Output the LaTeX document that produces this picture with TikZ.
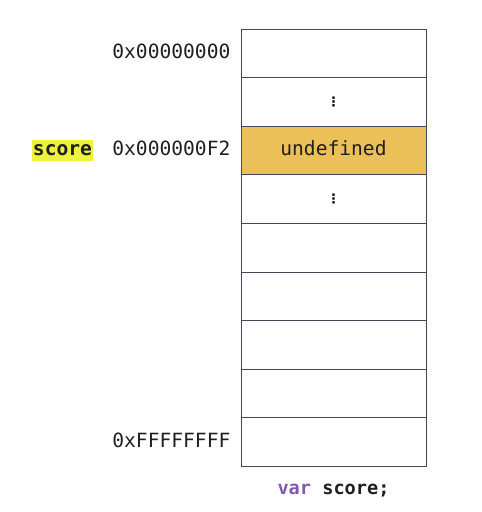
\documentclass[tikz,border=0pt]{standalone}
\usepackage{fontspec}
\setmonofont{DejaVu Sans Mono}
\newfontfamily\symfont{DejaVu Sans}
\usetikzlibrary{positioning}
\definecolor{cellline}{RGB}{70,70,90}
\definecolor{cellfill}{RGB}{236,192,88}
\definecolor{marker}{RGB}{238,242,60}
\definecolor{kwpurple}{RGB}{128,88,178}

\begin{document}
\begin{tikzpicture}[x=1pt,y=-1pt,
  cell/.style={draw=cellline,line width=0.8pt,minimum width=185pt,minimum height=48.6pt,inner sep=0pt},
  mono/.style={font=\ttfamily\fontsize{19.6}{22}\selectfont,text=black!88,inner sep=0pt,text height=14pt,text depth=4pt},
  addr/.style={mono,anchor=east}]
  \useasboundingbox (0,0) rectangle (482,512);
  % memory cells
  \foreach \i/\f in {1/white,2/white,3/cellfill,4/white,5/white,6/white,7/white,8/white,9/white}
    \node[cell,fill=\f] (cell\i) at (333.5,{29+48.6*(\i-0.5)}) {};
  \node[mono] (val3) at (cell3) {undefined};
  \node[font=\symfont\bfseries\fontsize{13}{14}\selectfont,inner sep=0pt] (dots2) at (cell2) {⋮};
  \node[font=\symfont\bfseries\fontsize{13}{14}\selectfont,inner sep=0pt] (dots4) at (cell4) {⋮};
  % addresses
  \node[addr,left=10pt of cell1.west] (addr1) {0x00000000};
  \node[addr,left=10pt of cell3.west] (addr3) {0x000000F2};
  \node[addr,left=10pt of cell9.west] (addr9) {0xFFFFFFFF};
  % variable name
  \node[mono,font=\ttfamily\bfseries\fontsize{19.6}{22}\selectfont,fill=marker,inner xsep=1pt,inner ysep=1.5pt,
    left=19pt of addr3] (varname) {score};
  \node[mono,font=\ttfamily\bfseries\fontsize{18.6}{22}\selectfont,below=13pt of cell9] (decl)
    {\textcolor{kwpurple}{var} score;};
\end{tikzpicture}
\end{document}
